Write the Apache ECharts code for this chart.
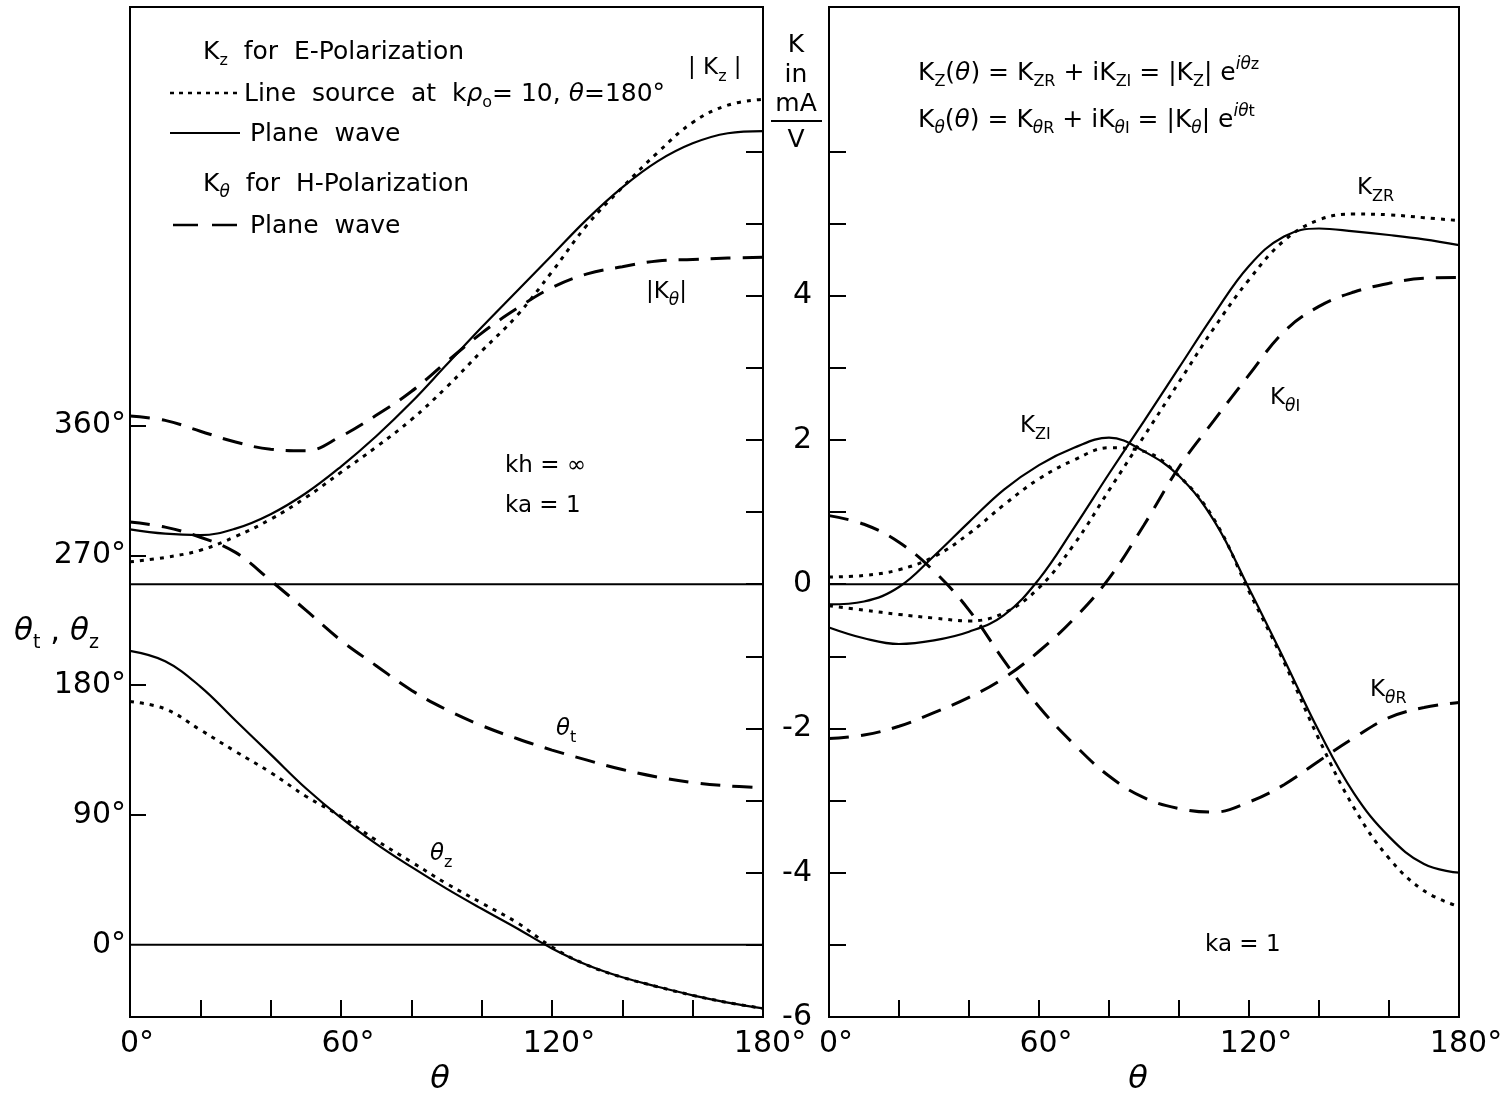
<!DOCTYPE html>
<html><head><meta charset="utf-8">
<script src="https://cdn.jsdelivr.net/npm/echarts@6/dist/echarts.min.js"></script>
<style>html,body{margin:0;padding:0;background:#fff}#c{width:1509px;height:1099px}</style>
</head><body><div id="c"></div>
<script>
const FONT = 'DejaVu Sans';

// angle of observation (degrees)
const theta = [0,10,20,30,40,50,60,70,80,90,100,110,120,130,140,150,160,170,180];

// Left panel: magnitudes (mA/V)
const absKzLineSource = [0.31,0.37,0.47,0.66,0.90,1.20,1.55,1.90,2.28,2.73,3.23,3.72,4.33,4.98,5.50,5.98,6.40,6.64,6.72];
const absKzPlane      = [0.76,0.70,0.68,0.77,0.97,1.26,1.63,2.05,2.52,3.04,3.56,4.06,4.56,5.06,5.50,5.86,6.11,6.25,6.28];
const absKthetaPlane  = [2.33,2.27,2.12,1.97,1.87,1.85,2.05,2.34,2.67,3.08,3.48,3.82,4.11,4.30,4.40,4.48,4.50,4.52,4.53];

// Left panel: phases (degrees)
const thetaTPlane     = [293,289.5,282.5,272,252.5,232,211,193.5,176.5,163,152,143,135,128,121.5,116.3,112.5,110.2,108.8];
const thetaZPlane     = [203.7,196.5,179,155.5,132,108.5,88,70,54,39,25,11.5,-2.5,-14,-22.5,-29,-35,-40,-44];
const thetaZLineSource= [168.6,163.5,149,134,119.5,103,89,72.5,57.5,42.5,29,15.5,-1.5,-14,-22.5,-29,-35,-40,-44];

// Right panel: real / imaginary parts (mA/V)
const KzRPlane        = [-0.60,-0.75,-0.83,-0.78,-0.66,-0.43,0.07,0.78,1.53,2.26,3.00,3.74,4.41,4.82,4.93,4.89,4.84,4.78,4.70];
const KzRLineSource   = [-0.30,-0.36,-0.42,-0.47,-0.51,-0.40,-0.05,0.55,1.30,2.05,2.80,3.55,4.22,4.76,5.05,5.13,5.12,5.08,5.04];
const KzIPlane        = [-0.28,-0.24,-0.04,0.39,0.86,1.31,1.65,1.89,2.03,1.84,1.50,0.88,-0.06,-1.04,-2.04,-2.90,-3.50,-3.88,-4.00];
const KzILineSource   = [0.10,0.12,0.20,0.38,0.70,1.10,1.46,1.72,1.89,1.84,1.50,0.90,-0.10,-1.08,-2.15,-3.10,-3.80,-4.25,-4.47];
const KthetaRPlane    = [0.95,0.83,0.58,0.18,-0.36,-1.06,-1.70,-2.22,-2.66,-2.96,-3.11,-3.16,-3.02,-2.78,-2.45,-2.13,-1.85,-1.71,-1.64];
const KthetaIPlane    = [-2.14,-2.09,-1.97,-1.78,-1.57,-1.30,-0.93,-0.48,0.08,0.82,1.62,2.27,2.90,3.50,3.85,4.05,4.17,4.24,4.25];

// tick labels
const xLabelValues = [0,60,120,180];
const phaseLabelValues = [0,90,180,270,360];
const phaseTickValues = [90,180,270,360];
const kLabelValues = [-6,-4,-2,0,2,4];
const kTickValues = [-5,-4,-3,-2,-1,0,1,2,3,4,5,6];

function pts(ys){ return theta.map((t,i)=>[t, ys[i]]); }
const SOLID = {color:'#000', width:2.2, type:'solid'};
const DOT = {color:'#000', width:3, type:[4,6]};
const DASH = {color:'#000', width:3, type:[20,12]};
function ser(xi, yi, ys, ls){
  return {type:'line', xAxisIndex:xi, yAxisIndex:yi, data:pts(ys), smooth:0.4, symbol:'none',
          lineStyle:ls, silent:true, z:3};
}
function hline(xi, yi){
  return {type:'line', xAxisIndex:xi, yAxisIndex:yi, data:[[0,0],[180,0]], symbol:'none',
          lineStyle:{color:'#000', width:2}, silent:true, z:2};
}
function xAx(gi){
  return {type:'value', gridIndex:gi, min:0, max:180, interval:20,
    axisLine:{show:true, onZero:false, lineStyle:{color:'#000', width:2}},
    axisTick:{show:true, inside:true, length:17, lineStyle:{color:'#000', width:2}},
    axisLabel:{color:'#000', fontSize:30, fontFamily:FONT, margin:12, padding:[0,0,0,14],
      formatter: v => xLabelValues.includes(v) ? v + '°' : ''},
    splitLine:{show:false}};
}

function mkRich(B){
  return {
    a:{fontSize:B, fontFamily:FONT, fill:'#000', lineHeight:32, verticalAlign:'middle'},
    i:{fontSize:B, fontFamily:FONT, fontStyle:'italic', fill:'#000', lineHeight:32, verticalAlign:'middle'},
    s:{fontSize:16, fontFamily:FONT, fill:'#000', lineHeight:14, verticalAlign:'middle', padding:[18,0,0,0]},
    si:{fontSize:17, fontFamily:FONT, fontStyle:'italic', fill:'#000', lineHeight:14, verticalAlign:'middle', padding:[18,0,0,0]},
    p:{fontSize:16, fontFamily:FONT, fill:'#000', lineHeight:14, verticalAlign:'middle', padding:[0,0,16,0]},
    pi:{fontSize:17, fontFamily:FONT, fontStyle:'italic', fill:'#000', lineHeight:14, verticalAlign:'middle', padding:[0,0,16,0]},
    L:{fontSize:31, fontFamily:FONT, fontStyle:'italic', fill:'#000', lineHeight:40, verticalAlign:'middle'},
    Ls:{fontSize:19, fontFamily:FONT, fill:'#000', lineHeight:14, verticalAlign:'middle', padding:[22,0,0,0]},
    Lc:{fontSize:31, fontFamily:FONT, fill:'#000', lineHeight:40, verticalAlign:'middle'}
  };
}
const R23 = mkRich(23), R25 = mkRich(25);
function txt(x, y, text, big){
  const B = big ? 25 : 23;
  return {type:'text', x:x, y:y, silent:true, z:10,
    style:{text:text, rich: big ? R25 : R23, fill:'#000', font:B + 'px ' + FONT, align:'left', verticalAlign:'middle'}};
}
function plain(x, y, text, font){
  return {type:'text', x:x, y:y, silent:true, z:10,
    style:{text:text, font:font, fill:'#000', align:'center', verticalAlign:'middle'}};
}
function ln(x1,y1,x2,y2,w,dash){
  return {type:'line', silent:true, z:10, shape:{x1:x1,y1:y1,x2:x2,y2:y2},
    style:{stroke:'#000', lineWidth:w, lineDash:dash || null}};
}

const graphics = [
  txt(203, 52, '{a|K}{s|z}{a|  for  E-Polarization}', true),
  ln(170, 93, 240, 93, 2.5, [4,5]),
  txt(244, 94, '{a|Line  source  at  k}{i|ρ}{s|o}{a|= 10, }{i|θ}{a|=180°}', true),
  ln(170, 133, 240, 133, 2.2),
  txt(250, 134, '{a|Plane  wave}', true),
  txt(203, 184, '{a|K}{si|θ}{a|  for  H-Polarization}', true),
  ln(173, 225, 240, 225, 2.5, [25,14]),
  txt(250, 226, '{a|Plane  wave}', true),
  txt(688, 68, '{a|| K}{s|z}{a| |}'),
  txt(646, 292, '{a||K}{si|θ}{a||}'),
  txt(505, 466, '{a|kh = ∞}'),
  txt(505, 506, '{a|ka = 1}'),
  txt(556, 729, '{i|θ}{s|t}'),
  txt(430, 854, '{i|θ}{s|z}'),
  txt(14, 632, '{L|θ}{Ls|t}{Lc| , }{L|θ}{Ls|z}'),
  // middle axis unit
  plain(796, 45, 'K', '25px ' + FONT),
  plain(796, 75, 'in', '25px ' + FONT),
  plain(796, 104, 'mA', '25px ' + FONT),
  ln(771, 121, 822, 121, 2),
  plain(796, 140, 'V', '25px ' + FONT),
  // right panel
  txt(918, 73, '{a|K}{s|Z}{a|(}{i|θ}{a|) = K}{s|ZR}{a| + iK}{s|ZI}{a| = |K}{s|Z}{a|| e}{pi|iθ}{p|z}', true),
  txt(918, 120, '{a|K}{si|θ}{a|(}{i|θ}{a|) = K}{si|θ}{s|R}{a| + iK}{si|θ}{s|I}{a| = |K}{si|θ}{a|| e}{pi|iθ}{p|t}', true),
  txt(1357, 188, '{a|K}{s|ZR}'),
  txt(1270, 398, '{a|K}{si|θ}{s|I}'),
  txt(1020, 426, '{a|K}{s|ZI}'),
  txt(1370, 690, '{a|K}{si|θ}{s|R}'),
  txt(1205, 945, '{a|ka = 1}'),
  // axis titles
  plain(440, 1080, 'θ', 'italic 32px ' + FONT),
  plain(1138, 1080, 'θ', 'italic 32px ' + FONT)
];

const option = {
  animation:false,
  backgroundColor:'#fff',
  textStyle:{fontFamily:FONT, color:'#000'},
  grid:[
    {left:130, top:7, width:633, height:1010, show:true, borderColor:'#000', borderWidth:2, backgroundColor:'transparent'},
    {left:829, top:7, width:630, height:1010, show:true, borderColor:'#000', borderWidth:2, backgroundColor:'transparent'}
  ],
  xAxis:[xAx(0), xAx(1)],
  yAxis:[
    {type:'value', gridIndex:0, position:'left', min:-50, max:650,
      axisLine:{show:true, onZero:false, lineStyle:{color:'#000', width:2}},
      axisTick:{show:true, inside:true, length:16, customValues:phaseTickValues, lineStyle:{color:'#000', width:2}},
      axisLabel:{show:true, customValues:phaseLabelValues, color:'#000', fontSize:30, fontFamily:FONT, margin:4,
        formatter: v => v + '°'},
      splitLine:{show:false}},
    {type:'value', gridIndex:0, position:'right', min:-6, max:8, interval:1,
      axisLine:{show:true, onZero:false, lineStyle:{color:'#000', width:2}},
      axisTick:{show:true, inside:true, length:17, customValues:kTickValues, lineStyle:{color:'#000', width:2}},
      axisLabel:{show:false},
      splitLine:{show:false}},
    {type:'value', gridIndex:1, position:'left', min:-6, max:8, interval:1,
      axisLine:{show:true, onZero:false, lineStyle:{color:'#000', width:2}},
      axisTick:{show:true, inside:true, length:17, customValues:kTickValues, lineStyle:{color:'#000', width:2}},
      axisLabel:{show:true, color:'#000', fontSize:30, fontFamily:FONT, margin:17,
        formatter: v => kLabelValues.includes(v) ? String(v) : ''},
      splitLine:{show:false}}
  ],
  series:[
    hline(0,1), hline(0,0), hline(1,2),
    ser(0,1,absKzLineSource,DOT),
    ser(0,1,absKzPlane,SOLID),
    ser(0,1,absKthetaPlane,DASH),
    ser(0,0,thetaTPlane,DASH),
    ser(0,0,thetaZPlane,SOLID),
    ser(0,0,thetaZLineSource,DOT),
    ser(1,2,KzRPlane,SOLID),
    ser(1,2,KzRLineSource,DOT),
    ser(1,2,KzIPlane,SOLID),
    ser(1,2,KzILineSource,DOT),
    ser(1,2,KthetaRPlane,DASH),
    ser(1,2,KthetaIPlane,DASH)
  ],
  graphic:graphics
};
const chart = echarts.init(document.getElementById('c'), null, {renderer:'canvas'});
chart.setOption(option);
</script>
</body></html>
